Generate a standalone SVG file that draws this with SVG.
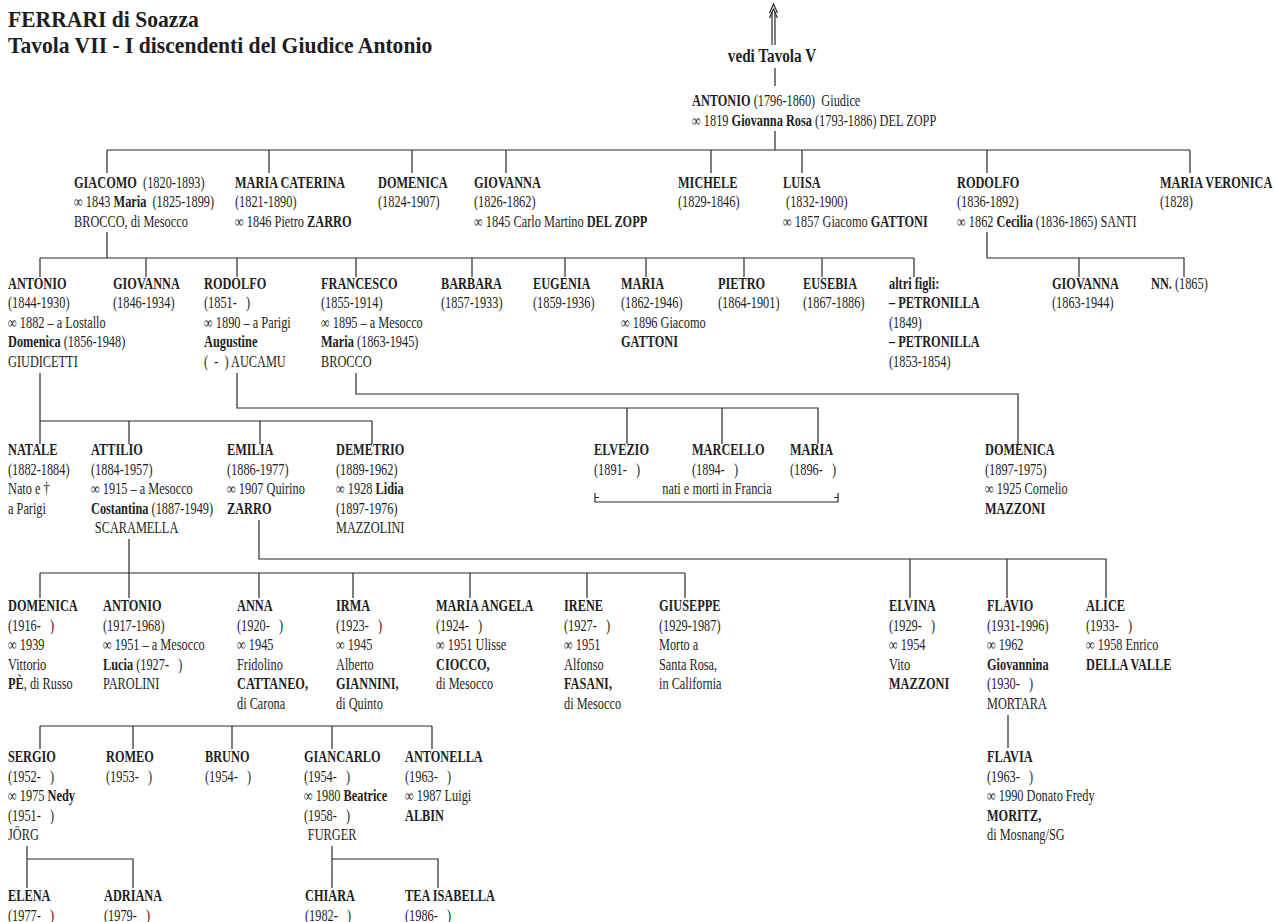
<svg xmlns="http://www.w3.org/2000/svg" width="1274" height="922" viewBox="0 0 1274 922">
<style>
.t{font-family:"Liberation Serif","Times New Roman",serif;font-size:16px;fill:#1e1e1e}
.b{font-weight:bold}
.h{font-family:"Liberation Serif","Times New Roman",serif;font-weight:bold;fill:#1e1e1e}
.c{fill:none;stroke:#2a2a2a;stroke-width:1.2}
.m{text-anchor:middle}
</style>
<rect width="1274" height="922" fill="#ffffff"/>

<g id="title" transform="translate(8 0) scale(0.9 1)">
<text class="h" style="font-size:24px" y="27">FERRARI di Soazza</text>
<text class="h" style="font-size:24px" y="53">Tavola VII - I discendenti del Giudice Antonio</text>
</g>

<g id="connectors">
<path class="c" d="M772,12 V45 M775,12 V45"/>
<path class="c" d="M769.5,13 L773.5,4 L777.5,13 M769.5,18 L773.5,9 L777.5,18"/>
<path class="c" d="M775,68 V86 M775,131 V150"/>
<path class="c" d="M107,150 H1190 M107,150 V173 M269,150 V173 M412,150 V173 M506,150 V173 M711,150 V173 M802,150 V173 M987,150 V173 M1190,150 V173"/>
<path class="c" d="M107,232 V258 M40,258 H914 M40,258 V277 M146,258 V277 M237,258 V277 M356,258 V277 M472,258 V277 M565,258 V277 M646,258 V277 M744,258 V277 M822,258 V277 M914,258 V277"/>
<path class="c" d="M987,232 V258 H1184 V277 M1079,258 V277"/>
<path class="c" d="M40,373 V444 M40,421 H372 V444 M129,421 V444 M260,421 V444"/>
<path class="c" d="M237,373 V408 H818 V444 M627,408 V444 M722,408 V444"/>
<path class="c" d="M356,373 V394 H1018 V444"/>
<path class="c" d="M595,493 V502 H838 V493 M595,497.5 H599 M838,497.5 H834"/>
<path class="c" d="M129,539 V598 M40,573 H685 M40,573 V598 M259,573 V598 M353,573 V598 M470,573 V598 M587,573 V598 M685,573 V598"/>
<path class="c" d="M259,520 V559 H1106 V598 M910,559 V598 M1007,559 V598"/>
<path class="c" d="M40,726 H432 M40,726 V749 M133,726 V749 M232,726 V749 M332,726 V749 M432,726 V749"/>
<path class="c" d="M1008,715 V748"/>
<path class="c" d="M27,846 V888 M27,859 H133 V888 M332,846 V888 M332,859 H438 V888"/>
</g>

<g id="n-vedi" transform="translate(772 0) scale(0.8 1)">
<text class="h m" style="font-size:19px" y="62">vedi Tavola V</text>
</g>

<g id="n-antonio-giudice" transform="translate(692 0) scale(0.77 1)">
<text class="t" y="106"><tspan class="b">ANTONIO</tspan> (1796-1860)&#160; Giudice</text>
<text class="t" y="126">∞ 1819 <tspan class="b">Giovanna Rosa</tspan> (1793-1886) DEL ZOPP</text>
</g>

<g id="n-giacomo" transform="translate(74 0) scale(0.77 1)">
<text class="t" y="188"><tspan class="b">GIACOMO</tspan>&#160; (1820-1893)</text>
<text class="t" y="207.5">∞ 1843 <tspan class="b">Maria</tspan>&#160; (1825-1899)</text>
<text class="t" y="227">BROCCO, di Mesocco</text>
</g>
<g id="n-maria-caterina" transform="translate(235 0) scale(0.77 1)">
<text class="t b" y="188">MARIA CATERINA</text>
<text class="t" y="207.5">(1821-1890)</text>
<text class="t" y="227">∞ 1846 Pietro <tspan class="b">ZARRO</tspan></text>
</g>
<g id="n-domenica-1824" transform="translate(378 0) scale(0.77 1)">
<text class="t b" y="188">DOMENICA</text>
<text class="t" y="207.5">(1824-1907)</text>
</g>
<g id="n-giovanna-1826" transform="translate(474 0) scale(0.77 1)">
<text class="t b" y="188">GIOVANNA</text>
<text class="t" y="207.5">(1826-1862)</text>
<text class="t" y="227">∞ 1845 Carlo Martino <tspan class="b">DEL ZOPP</tspan></text>
</g>
<g id="n-michele" transform="translate(678 0) scale(0.77 1)">
<text class="t b" y="188">MICHELE</text>
<text class="t" y="207.5">(1829-1846)</text>
</g>
<g id="n-luisa" transform="translate(783 0) scale(0.77 1)">
<text class="t b" y="188">LUISA</text>
<text class="t" y="207.5">&#160;(1832-1900)</text>
<text class="t" y="227">∞ 1857 Giacomo <tspan class="b">GATTONI</tspan></text>
</g>
<g id="n-rodolfo-1836" transform="translate(957 0) scale(0.77 1)">
<text class="t b" y="188">RODOLFO</text>
<text class="t" y="207.5">(1836-1892)</text>
<text class="t" y="227">∞ 1862 <tspan class="b">Cecilia</tspan> (1836-1865) SANTI</text>
</g>
<g id="n-maria-veronica" transform="translate(1160 0) scale(0.77 1)">
<text class="t b" y="188">MARIA VERONICA</text>
<text class="t" y="207.5">(1828)</text>
</g>

<g id="n-antonio-1844" transform="translate(8 0) scale(0.77 1)">
<text class="t b" y="289">ANTONIO</text>
<text class="t" y="308.5">(1844-1930)</text>
<text class="t" y="328">∞ 1882 – a Lostallo</text>
<text class="t" y="347.5"><tspan class="b">Domenica</tspan> (1856-1948)</text>
<text class="t" y="367">GIUDICETTI</text>
</g>
<g id="n-giovanna-1846" transform="translate(113 0) scale(0.77 1)">
<text class="t b" y="289">GIOVANNA</text>
<text class="t" y="308.5">(1846-1934)</text>
</g>
<g id="n-rodolfo-1851" transform="translate(204 0) scale(0.77 1)">
<text class="t b" y="289">RODOLFO</text>
<text class="t" y="308.5">(1851-&#160;&#160;&#160;)</text>
<text class="t" y="328">∞ 1890 – a Parigi</text>
<text class="t b" y="347.5">Augustine</text>
<text class="t" y="367">(&#160;&#160;-&#160;&#160;) AUCAMU</text>
</g>
<g id="n-francesco" transform="translate(321 0) scale(0.77 1)">
<text class="t b" y="289">FRANCESCO</text>
<text class="t" y="308.5">(1855-1914)</text>
<text class="t" y="328">∞ 1895 – a Mesocco</text>
<text class="t" y="347.5"><tspan class="b">Maria</tspan> (1863-1945)</text>
<text class="t" y="367">BROCCO</text>
</g>
<g id="n-barbara" transform="translate(441 0) scale(0.77 1)">
<text class="t b" y="289">BARBARA</text>
<text class="t" y="308.5">(1857-1933)</text>
</g>
<g id="n-eugenia" transform="translate(533 0) scale(0.77 1)">
<text class="t b" y="289">EUGENIA</text>
<text class="t" y="308.5">(1859-1936)</text>
</g>
<g id="n-maria-1862" transform="translate(621 0) scale(0.77 1)">
<text class="t b" y="289">MARIA</text>
<text class="t" y="308.5">(1862-1946)</text>
<text class="t" y="328">∞ 1896 Giacomo</text>
<text class="t b" y="347.5">GATTONI</text>
</g>
<g id="n-pietro" transform="translate(718 0) scale(0.77 1)">
<text class="t b" y="289">PIETRO</text>
<text class="t" y="308.5">(1864-1901)</text>
</g>
<g id="n-eusebia" transform="translate(803 0) scale(0.77 1)">
<text class="t b" y="289">EUSEBIA</text>
<text class="t" y="308.5">(1867-1886)</text>
</g>
<g id="n-altri-figli" transform="translate(889 0) scale(0.77 1)">
<text class="t b" y="289">altri figli:</text>
<text class="t b" y="308.5">– PETRONILLA</text>
<text class="t" y="328">(1849)</text>
<text class="t b" y="347.5">– PETRONILLA</text>
<text class="t" y="367">(1853-1854)</text>
</g>
<g id="n-giovanna-1863" transform="translate(1052 0) scale(0.77 1)">
<text class="t b" y="289">GIOVANNA</text>
<text class="t" y="308.5">(1863-1944)</text>
</g>
<g id="n-nn" transform="translate(1151 0) scale(0.77 1)">
<text class="t" y="289"><tspan class="b">NN.</tspan> (1865)</text>
</g>

<g id="n-natale" transform="translate(8 0) scale(0.77 1)">
<text class="t b" y="455.5">NATALE</text>
<text class="t" y="475">(1882-1884)</text>
<text class="t" y="494.5">Nato e †</text>
<text class="t" y="514">a Parigi</text>
</g>
<g id="n-attilio" transform="translate(91 0) scale(0.77 1)">
<text class="t b" y="455.5">ATTILIO</text>
<text class="t" y="475">(1884-1957)</text>
<text class="t" y="494.5">∞ 1915 – a Mesocco</text>
<text class="t" y="514"><tspan class="b">Costantina</tspan> (1887-1949)</text>
<text class="t" x="5" y="533.5">SCARAMELLA</text>
</g>
<g id="n-emilia" transform="translate(227 0) scale(0.77 1)">
<text class="t b" y="455.5">EMILIA</text>
<text class="t" y="475">(1886-1977)</text>
<text class="t" y="494.5">∞ 1907 Quirino</text>
<text class="t b" y="514">ZARRO</text>
</g>
<g id="n-demetrio" transform="translate(336 0) scale(0.77 1)">
<text class="t b" y="455.5">DEMETRIO</text>
<text class="t" y="475">(1889-1962)</text>
<text class="t" y="494.5">∞ 1928 <tspan class="b">Lidia</tspan></text>
<text class="t" y="514">(1897-1976)</text>
<text class="t" y="533.5">MAZZOLINI</text>
</g>
<g id="n-elvezio" transform="translate(594 0) scale(0.77 1)">
<text class="t b" y="455.5">ELVEZIO</text>
<text class="t" y="475">(1891-&#160;&#160;&#160;)</text>
</g>
<g id="n-marcello" transform="translate(692 0) scale(0.77 1)">
<text class="t b" y="455.5">MARCELLO</text>
<text class="t" y="475">(1894-&#160;&#160;&#160;)</text>
</g>
<g id="n-maria-1896" transform="translate(790 0) scale(0.77 1)">
<text class="t b" y="455.5">MARIA</text>
<text class="t" y="475">(1896-&#160;&#160;&#160;)</text>
</g>
<g id="n-note-francia" transform="translate(717 0) scale(0.77 1)">
<text class="t m" y="494.5">nati e morti in Francia</text>
</g>
<g id="n-domenica-1897" transform="translate(985 0) scale(0.77 1)">
<text class="t b" y="455.5">DOMENICA</text>
<text class="t" y="475">(1897-1975)</text>
<text class="t" y="494.5">∞ 1925 Cornelio</text>
<text class="t b" y="514">MAZZONI</text>
</g>

<g id="n-domenica-1916" transform="translate(8 0) scale(0.77 1)">
<text class="t b" y="611.5">DOMENICA</text>
<text class="t" y="631">(1916-&#160;&#160;&#160;)</text>
<text class="t" y="650.5">∞ 1939</text>
<text class="t" y="670">Vittorio</text>
<text class="t" y="689.5"><tspan class="b">PÈ</tspan>, di Russo</text>
</g>
<g id="n-antonio-1917" transform="translate(103 0) scale(0.77 1)">
<text class="t b" y="611.5">ANTONIO</text>
<text class="t" y="631">(1917-1968)</text>
<text class="t" y="650.5">∞ 1951 – a Mesocco</text>
<text class="t" y="670"><tspan class="b">Lucia</tspan> (1927-&#160;&#160;&#160;)</text>
<text class="t" y="689.5">PAROLINI</text>
</g>
<g id="n-anna" transform="translate(237 0) scale(0.77 1)">
<text class="t b" y="611.5">ANNA</text>
<text class="t" y="631">(1920-&#160;&#160;&#160;)</text>
<text class="t" y="650.5">∞ 1945</text>
<text class="t" y="670">Fridolino</text>
<text class="t b" y="689.5">CATTANEO,</text>
<text class="t" y="709">di Carona</text>
</g>
<g id="n-irma" transform="translate(336 0) scale(0.77 1)">
<text class="t b" y="611.5">IRMA</text>
<text class="t" y="631">(1923-&#160;&#160;&#160;)</text>
<text class="t" y="650.5">∞ 1945</text>
<text class="t" y="670">Alberto</text>
<text class="t b" y="689.5">GIANNINI,</text>
<text class="t" y="709">di Quinto</text>
</g>
<g id="n-maria-angela" transform="translate(436 0) scale(0.77 1)">
<text class="t b" y="611.5">MARIA ANGELA</text>
<text class="t" y="631">(1924-&#160;&#160;&#160;)</text>
<text class="t" y="650.5">∞ 1951 Ulisse</text>
<text class="t b" y="670">CIOCCO,</text>
<text class="t" y="689.5">di Mesocco</text>
</g>
<g id="n-irene" transform="translate(564 0) scale(0.77 1)">
<text class="t b" y="611.5">IRENE</text>
<text class="t" y="631">(1927-&#160;&#160;&#160;)</text>
<text class="t" y="650.5">∞ 1951</text>
<text class="t" y="670">Alfonso</text>
<text class="t b" y="689.5">FASANI,</text>
<text class="t" y="709">di Mesocco</text>
</g>
<g id="n-giuseppe" transform="translate(659 0) scale(0.77 1)">
<text class="t b" y="611.5">GIUSEPPE</text>
<text class="t" y="631">(1929-1987)</text>
<text class="t" y="650.5">Morto a</text>
<text class="t" y="670">Santa Rosa,</text>
<text class="t" y="689.5">in California</text>
</g>
<g id="n-elvina" transform="translate(889 0) scale(0.77 1)">
<text class="t b" y="611.5">ELVINA</text>
<text class="t" y="631">(1929-&#160;&#160;&#160;)</text>
<text class="t" y="650.5">∞ 1954</text>
<text class="t" y="670">Vito</text>
<text class="t b" y="689.5">MAZZONI</text>
</g>
<g id="n-flavio" transform="translate(987 0) scale(0.77 1)">
<text class="t b" y="611.5">FLAVIO</text>
<text class="t" y="631">(1931-1996)</text>
<text class="t" y="650.5">∞ 1962</text>
<text class="t b" y="670">Giovannina</text>
<text class="t" y="689.5">(1930-&#160;&#160;&#160;)</text>
<text class="t" y="709">MORTARA</text>
</g>
<g id="n-alice" transform="translate(1086 0) scale(0.77 1)">
<text class="t b" y="611.5">ALICE</text>
<text class="t" y="631">(1933-&#160;&#160;&#160;)</text>
<text class="t" y="650.5">∞ 1958 Enrico</text>
<text class="t b" y="670">DELLA VALLE</text>
</g>

<g id="n-sergio" transform="translate(8 0) scale(0.77 1)">
<text class="t b" y="762.5">SERGIO</text>
<text class="t" y="782">(1952-&#160;&#160;&#160;)</text>
<text class="t" y="801.5">∞ 1975 <tspan class="b">Nedy</tspan></text>
<text class="t" y="821">(1951-&#160;&#160;&#160;)</text>
<text class="t" y="840.5">JÖRG</text>
</g>
<g id="n-romeo" transform="translate(106 0) scale(0.77 1)">
<text class="t b" y="762.5">ROMEO</text>
<text class="t" y="782">(1953-&#160;&#160;&#160;)</text>
</g>
<g id="n-bruno" transform="translate(205 0) scale(0.77 1)">
<text class="t b" y="762.5">BRUNO</text>
<text class="t" y="782">(1954-&#160;&#160;&#160;)</text>
</g>
<g id="n-giancarlo" transform="translate(304 0) scale(0.77 1)">
<text class="t b" y="762.5">GIANCARLO</text>
<text class="t" y="782">(1954-&#160;&#160;&#160;)</text>
<text class="t" y="801.5">∞ 1980 <tspan class="b">Beatrice</tspan></text>
<text class="t" y="821">(1958-&#160;&#160;&#160;)</text>
<text class="t" x="5" y="840.5">FURGER</text>
</g>
<g id="n-antonella" transform="translate(405 0) scale(0.77 1)">
<text class="t b" y="762.5">ANTONELLA</text>
<text class="t" y="782">(1963-&#160;&#160;&#160;)</text>
<text class="t" y="801.5">∞ 1987 Luigi</text>
<text class="t b" y="821">ALBIN</text>
</g>
<g id="n-flavia" transform="translate(987 0) scale(0.77 1)">
<text class="t b" y="762.5">FLAVIA</text>
<text class="t" y="782">(1963-&#160;&#160;&#160;)</text>
<text class="t" y="801.5">∞ 1990 Donato Fredy</text>
<text class="t b" y="821">MORITZ,</text>
<text class="t" y="840.5">di Mosnang/SG</text>
</g>

<g id="n-elena" transform="translate(8 0) scale(0.77 1)">
<text class="t b" y="901.5">ELENA</text>
<text class="t" y="921">(1977-&#160;&#160;&#160;)</text>
</g>
<g id="n-adriana" transform="translate(104 0) scale(0.77 1)">
<text class="t b" y="901.5">ADRIANA</text>
<text class="t" y="921">(1979-&#160;&#160;&#160;)</text>
</g>
<g id="n-chiara" transform="translate(305 0) scale(0.77 1)">
<text class="t b" y="901.5">CHIARA</text>
<text class="t" y="921">(1982-&#160;&#160;&#160;)</text>
</g>
<g id="n-tea-isabella" transform="translate(405 0) scale(0.77 1)">
<text class="t b" y="901.5">TEA ISABELLA</text>
<text class="t" y="921">(1986-&#160;&#160;&#160;)</text>
</g>
</svg>
